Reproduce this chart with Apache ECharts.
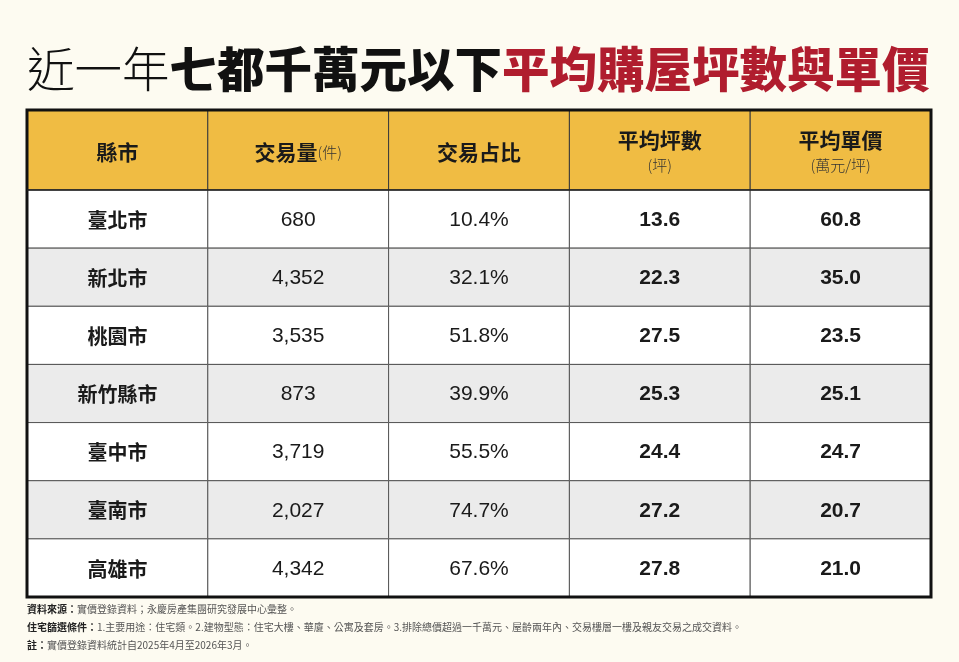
<!DOCTYPE html>
<html lang="zh-Hant">
<head>
<meta charset="UTF-8">
<title>近一年七都千萬元以下平均購屋坪數與單價</title>
<script src="https://cdn.jsdelivr.net/npm/echarts@6.0.0/dist/echarts.min.js"></script>
<style>
  html, body { margin: 0; padding: 0; background: #fdfbf1; }
</style>
</head>
<body>
<div id="chart" style="width: 959px; height: 662px;"></div>
<script>
// 資料
var columns = ['縣市', '交易量', '交易占比', '平均坪數', '平均單價'];
var headerSub = ['', '(件)', '', '(坪)', '(萬元/坪)'];
var cities = ['臺北市', '新北市', '桃園市', '新竹縣市', '臺中市', '臺南市', '高雄市'];
var volume = [680, 4352, 3535, 873, 3719, 2027, 4342];
var share = [10.4, 32.1, 51.8, 39.9, 55.5, 74.7, 67.6];
var avgPing = [13.6, 22.3, 27.5, 25.3, 24.4, 27.2, 27.8];
var unitPrice = [60.8, 35.0, 23.5, 25.1, 24.7, 20.7, 21.0];
var notes = [
  ['資料來源：', '實價登錄資料；永慶房產集團研究發展中心彙整。'],
  ['住宅篩選條件：', '1.主要用途：住宅類。2.建物型態：住宅大樓、華廈、公寓及套房。3.排除總價超過一千萬元、屋齡兩年內、交易樓層一樓及親友交易之成交資料。'],
  ['註：', '實價登錄資料統計自2025年4月至2026年3月。']
];

var CJK = '"Noto Sans CJK TC", "Noto Sans CJK SC", sans-serif';
var NUM = '"Liberation Sans", Arial, "Noto Sans CJK TC", sans-serif';

let chart = echarts.init(document.getElementById('chart'));

// 儲存格文字
function cellText(col, row) {
  if (col === 0) return cities[row];
  if (col === 1) return volume[row].toLocaleString('en-US');
  if (col === 2) return share[row].toFixed(1) + '%';
  if (col === 3) return avgPing[row].toFixed(1);
  return unitPrice[row].toFixed(1);
}

var bodyData = [];
cities.forEach(function (c, r) {
  columns.forEach(function (h, k) {
    bodyData.push([k, r]);
  });
});
var headData = columns.map(function (h, k) { return [k, 0]; });

function renderHead(params, api) {
  var k = api.value(0);
  var p = api.coord([k, 0]);
  var s = api.size([1, 1]);
  var children = [{
    type: 'rect',
    shape: { x: p[0] - s[0] / 2, y: p[1] - s[1] / 2, width: s[0], height: s[1] },
    style: { fill: '#f0bc43', stroke: '#3a3a3a', lineWidth: 1 }
  }];
  var sub = headerSub[k];
  if (k >= 3) {
    children.push({
      type: 'text',
      style: { text: columns[k], x: p[0], y: p[1] - 10, align: 'center', verticalAlign: 'middle',
        font: 'bold 21px ' + CJK, fill: '#1a1a1a' }
    });
    children.push({
      type: 'text',
      style: { text: sub, x: p[0], y: p[1] + 15, align: 'center', verticalAlign: 'middle',
        font: '300 15px ' + CJK, fill: '#333' }
    });
  } else {
    children.push({
      type: 'text',
      style: {
        text: '{m|' + columns[k] + '}' + (sub ? '{s|' + sub + '}' : ''),
        x: p[0], y: p[1] + 2, align: 'center', verticalAlign: 'middle',
        rich: {
          m: { font: 'bold 21px ' + CJK, fill: '#1a1a1a' },
          s: { font: '300 15px ' + CJK, fill: '#333' }
        }
      }
    });
  }
  return { type: 'group', children: children };
}

function renderBody(params, api) {
  var k = api.value(0), r = api.value(1);
  var p = api.coord([k, r]);
  var s = api.size([1, 1]);
  var bold = (k === 0 || k >= 3);
  return {
    type: 'group',
    children: [{
      type: 'rect',
      shape: { x: p[0] - s[0] / 2, y: p[1] - s[1] / 2, width: s[0], height: s[1] },
      style: { fill: r % 2 === 1 ? '#ebebeb' : '#ffffff', stroke: '#555', lineWidth: 1 }
    }, {
      type: 'text',
      style: {
        text: cellText(k, r), x: p[0], y: p[1] + 1, align: 'center', verticalAlign: 'middle',
        font: (bold ? 'bold ' : '') + (k === 0 ? '20px ' + CJK : '21px ' + NUM), fill: '#1a1a1a'
      }
    }]
  };
}

var tableLeft = 27, tableRight = 28, headTop = 110, headH = 80, bodyTop = 190, bodyBottom = 65;

let option = {
  backgroundColor: '#fdfbf1',
  animation: false,
  grid: [
    { left: tableLeft, right: tableRight, top: headTop, height: headH },
    { left: tableLeft, right: tableRight, top: bodyTop, bottom: bodyBottom }
  ],
  xAxis: [
    { type: 'category', gridIndex: 0, data: columns, show: false },
    { type: 'category', gridIndex: 1, data: columns, show: false }
  ],
  yAxis: [
    { type: 'category', gridIndex: 0, data: ['head'], show: false },
    { type: 'category', gridIndex: 1, data: cities, inverse: true, show: false }
  ],
  series: [
    { type: 'custom', xAxisIndex: 0, yAxisIndex: 0, renderItem: renderHead, data: headData, silent: true },
    { type: 'custom', xAxisIndex: 1, yAxisIndex: 1, renderItem: renderBody, data: bodyData, silent: true }
  ],
  graphic: [
    {
      type: 'text', left: 27, top: 45,
      style: {
        text: '{a|近一年}{b|七都千萬元以下}{c|平均購屋坪數與單價}',
        rich: {
          a: { fontFamily: CJK, fontSize: 47.5, fontWeight: 300, fill: '#111' },
          b: { fontFamily: CJK, fontSize: 47.5, fontWeight: 900, fill: '#111' },
          c: { fontFamily: CJK, fontSize: 47.5, fontWeight: 900, fill: '#b01d2e' }
        }
      }
    },
    // 外框
    {
      type: 'rect', z: 100, silent: true,
      shape: { x: 27, y: 110, width: 904, height: 487 },
      style: { fill: 'none', stroke: '#111', lineWidth: 3 }
    },
    {
      type: 'line', z: 100, silent: true,
      shape: { x1: 27, y1: 190, x2: 931, y2: 190 },
      style: { stroke: '#222', lineWidth: 1.5 }
    }
  ].concat(notes.map(function (n, i) {
    return {
      type: 'text', left: 27, top: 604 + i * 18,
      style: {
        text: '{l|' + n[0] + '}{t|' + n[1] + '}',
        rich: {
          l: { fontFamily: CJK, fontSize: 10, fontWeight: 'bold', fill: '#222' },
          t: { fontFamily: CJK, fontSize: 10, fill: '#555' }
        }
      }
    };
  }))
};

chart.setOption(option);
</script>
</body>
</html>
